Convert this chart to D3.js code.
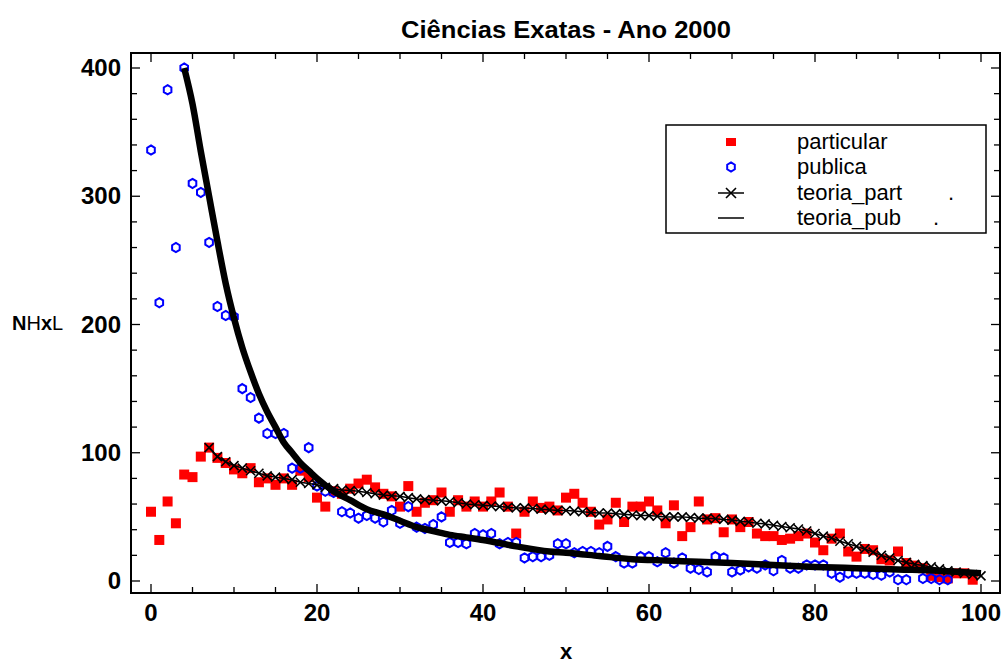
<!DOCTYPE html>
<html>
<head>
<meta charset="utf-8">
<script src="https://cdn.jsdelivr.net/npm/d3@7"></script>
<style>
  body { margin: 0; background: #fff; }
  svg { display: block; }
  text { font-family: "Liberation Sans", Arial, Helvetica, sans-serif; }
</style>
</head>
<body>
<svg id="chart" width="1006" height="666"></svg>
<script>
// Observed counts per x (x = 0 .. 99)
const particular = [
  54, 32, 62, 45, 83, 81, 97, 104, 96, 92,
  87, 84, 88, 77, 80, 75, 80, 75, 86, 81,
  65, 58, 70, 68, 72, 76, 79, 73, 68, 66,
  58, 74, 54, 61, 63, 69, 54, 63, 58, 62,
  58, 62, 69, 58, 37, 54, 62, 57, 58, 55,
  65, 68, 61, 54, 44, 48, 61, 46, 58, 58,
  62, 55, 45, 59, 35, 42, 62, 48, 49, 38,
  48, 42, 46, 37, 35, 35, 32, 33, 35, 37,
  30, 24, 33, 37, 23, 19, 25, 24, 17, 16,
  23, 14, 12, 10, 4, 3, 2, 6, 6, 1
];
const publica = [
  336, 217, 383, 260, 400, 310, 303, 264, 214, 207,
  206, 150, 143, 127, 115, 115, 115, 88, 88, 104,
  74, 70, 69, 54, 53, 49, 51, 49, 46, 55,
  45, 58, 42, 41, 44, 50, 30, 30, 29, 37,
  36, 37, 29, 30, 30, 18, 19, 19, 20, 29,
  29, 22, 23, 23, 22, 27, 19, 14, 14, 19,
  19, 15, 22, 14, 18, 10, 9, 7, 19, 18,
  7, 8.5, 11, 10, 12.5, 8, 16, 10, 10, 12.5,
  12.5, 12.5, 6, 3, 6, 6, 6, 5, 4.5, 7,
  1, 1, null, 2, 2, 1, 1, null, null, null
];

// Model for private schools, one value per x starting at x = 7
const teoriaPartStart = 7;
const teoriaPart = [
  104, 97, 93, 90, 88, 86, 84, 82, 81, 80,
  79, 77, 76, 75, 73, 72, 71, 70.5, 70, 69,
  68, 67, 66.5, 66, 65, 64, 63.5, 63, 62.5, 62,
  61, 60, 59.5, 59, 58.5, 58, 57.5, 57, 57, 56.5,
  56, 55.5, 55, 55, 54.5, 54, 53.5, 53, 53, 52.5,
  52, 51.5, 51, 51, 50.5, 50, 50, 50, 49.5, 49,
  49, 48.5, 48, 47.5, 46.5, 46, 45, 44.5, 43.5, 42.5,
  41.5, 40.5, 39, 37, 35, 33.5, 31, 29, 27, 25,
  22.5, 20, 18, 16, 14.5, 13, 12, 11, 9.5, 8,
  7, 6, 5, 4
];

// Model for public schools
const teoriaPubX = [4, 5, 6, 7, 8, 9, 10, 11, 12, 13, 14, 15, 16, 17, 18, 19, 20,
  22, 24, 26, 28, 30, 32, 34, 36, 38, 40, 44, 48, 50, 54, 58, 62, 66, 70, 75, 80, 85, 90, 95, 100];
const teoriaPubY = [400, 372, 335, 300, 265, 232, 205, 182, 163, 146, 132, 120, 108, 100, 92, 86, 80,
  70, 63, 56, 52, 47, 42, 39, 36, 34, 32, 27, 23, 22, 19.5, 17, 16, 15, 14, 12.5, 11, 10, 9, 8, 6];

const xTickLabels = [0, 20, 40, 60, 80, 100];
const yTickLabels = [0, 100, 200, 300, 400];
const legendLabels = ["particular", "publica", "teoria_part", "teoria_pub"];

const svg = d3.select("#chart");
const frame = { left: 131, right: 1000, top: 53, bottom: 593 };

const x = d3.scaleLinear().domain([0, 100]).range([151, 981]);
const y = d3.scaleLinear().domain([0, 400]).range([581, 68]);

// Frame
svg.append("rect")
  .attr("x", frame.left).attr("y", frame.top)
  .attr("width", frame.right - frame.left).attr("height", frame.bottom - frame.top)
  .attr("fill", "none").attr("stroke", "#000").attr("stroke-width", 2);

// Inward ticks on all four sides
const xMinor = d3.range(0, 101, 5);
const yMinor = d3.range(0, 401, 20);
const tickG = svg.append("g").attr("stroke", "#000").attr("stroke-width", 1.3);
xMinor.forEach(v => {
  const len = v % 20 === 0 ? 9 : 6;
  tickG.append("line").attr("x1", x(v)).attr("x2", x(v)).attr("y1", frame.bottom).attr("y2", frame.bottom - len);
  tickG.append("line").attr("x1", x(v)).attr("x2", x(v)).attr("y1", frame.top).attr("y2", frame.top + len);
});
yMinor.forEach(v => {
  const len = v % 100 === 0 ? 9 : 6;
  tickG.append("line").attr("y1", y(v)).attr("y2", y(v)).attr("x1", frame.left).attr("x2", frame.left + len);
  tickG.append("line").attr("y1", y(v)).attr("y2", y(v)).attr("x1", frame.right).attr("x2", frame.right - len);
});

// Tick labels
svg.append("g").selectAll("text").data(xTickLabels).join("text")
  .attr("x", d => x(d)).attr("y", 621)
  .attr("text-anchor", "middle")
  .attr("font-size", 24).attr("font-weight", "bold")
  .text(d => d);
svg.append("g").selectAll("text").data(yTickLabels).join("text")
  .attr("x", 121).attr("y", d => y(d) + 8)
  .attr("text-anchor", "end")
  .attr("font-size", 24).attr("font-weight", "bold")
  .text(d => d);

// Titles
svg.append("text").attr("x", 566).attr("y", 38).attr("text-anchor", "middle")
  .attr("font-size", 23).attr("font-weight", "bold")
  .attr("textLength", 330).attr("lengthAdjust", "spacingAndGlyphs")
  .text("Ciências Exatas - Ano 2000");
svg.append("text").attr("x", 566).attr("y", 659).attr("text-anchor", "middle")
  .attr("font-size", 22).attr("font-weight", "bold").text("x");
const yl = svg.append("text").attr("x", 12).attr("y", 330).attr("font-size", 20);
yl.append("tspan").attr("font-weight", "bold").text("N");
yl.append("tspan").attr("font-weight", "normal").text("H");
yl.append("tspan").attr("font-weight", "bold").text("x");
yl.append("tspan").attr("font-weight", "normal").text("L");

// Marker shapes
function hexPath(cx, cy, rx, ry) {
  const pts = [[0, -ry], [rx, -ry / 2], [rx, ry / 2], [0, ry], [-rx, ry / 2], [-rx, -ry / 2]];
  return "M" + pts.map(p => (cx + p[0]) + "," + (cy + p[1])).join("L") + "Z";
}
function crossPath(cx, cy, r) {
  return `M${cx - r},${cy - r}L${cx + r},${cy + r}M${cx - r},${cy + r}L${cx + r},${cy - r}`;
}

// Private schools: red squares
const partData = particular.map((v, i) => ({ x: i, v }));
svg.append("g").selectAll("rect").data(partData).join("rect")
  .attr("x", d => x(d.x) - 5).attr("y", d => y(d.v) - 5)
  .attr("width", 10).attr("height", 10).attr("fill", "#ff0000");

// Public schools: blue hexagons
const pubData = publica.map((v, i) => ({ x: i, v })).filter(d => d.v !== null);
svg.append("g").selectAll("path").data(pubData).join("path")
  .attr("d", d => hexPath(x(d.x), y(d.v), 3.8, 4.6))
  .attr("fill", "none").attr("stroke", "#0000ff").attr("stroke-width", 2);

// Private model: thin line with crosses
const tpData = teoriaPart.map((v, i) => ({ x: teoriaPartStart + i, v }));
svg.append("path").datum(tpData)
  .attr("d", d3.line().x(d => x(d.x)).y(d => y(d.v)))
  .attr("fill", "none").attr("stroke", "#000").attr("stroke-width", 1.5);
svg.append("g").selectAll("path").data(tpData).join("path")
  .attr("d", d => crossPath(x(d.x), y(d.v), 4.5))
  .attr("stroke", "#000").attr("stroke-width", 1.6);

// Public model: thick line
const tubData = teoriaPubX.map((xv, i) => ({ x: xv, v: teoriaPubY[i] }));
svg.append("path").datum(tubData)
  .attr("d", d3.line().x(d => x(d.x)).y(d => y(d.v)).curve(d3.curveMonotoneX))
  .attr("fill", "none").attr("stroke", "#000").attr("stroke-width", 6.5)
  .attr("stroke-linejoin", "round");

// Legend
const lg = svg.append("g");
lg.append("rect").attr("x", 666).attr("y", 125).attr("width", 320).attr("height", 108)
  .attr("fill", "#fff").attr("stroke", "#000").attr("stroke-width", 1.5);
const rowY = [142, 167, 193, 218];
const symX = 731;
lg.append("rect").attr("x", symX - 5).attr("y", rowY[0] - 4).attr("width", 10).attr("height", 8).attr("fill", "#ff0000");
lg.append("path").attr("d", hexPath(symX, rowY[1], 3.8, 4.6)).attr("fill", "none").attr("stroke", "#0000ff").attr("stroke-width", 2);
lg.append("line").attr("x1", symX - 13).attr("x2", symX + 13).attr("y1", rowY[2]).attr("y2", rowY[2]).attr("stroke", "#000").attr("stroke-width", 1.5);
lg.append("path").attr("d", crossPath(symX, rowY[2], 5)).attr("stroke", "#000").attr("stroke-width", 1.6);
lg.append("line").attr("x1", symX - 13).attr("x2", symX + 13).attr("y1", rowY[3]).attr("y2", rowY[3]).attr("stroke", "#000").attr("stroke-width", 1.5);
lg.selectAll("text.lab").data(legendLabels).join("text").attr("class", "lab")
  .attr("x", 797).attr("y", (d, i) => rowY[i] + 7)
  .attr("font-size", 22).text(d => d);
lg.append("text").attr("x", 948).attr("y", rowY[2] + 7).attr("font-size", 22).text(".");
lg.append("text").attr("x", 933).attr("y", rowY[3] + 7).attr("font-size", 22).text(".");
</script>
</body>
</html>
